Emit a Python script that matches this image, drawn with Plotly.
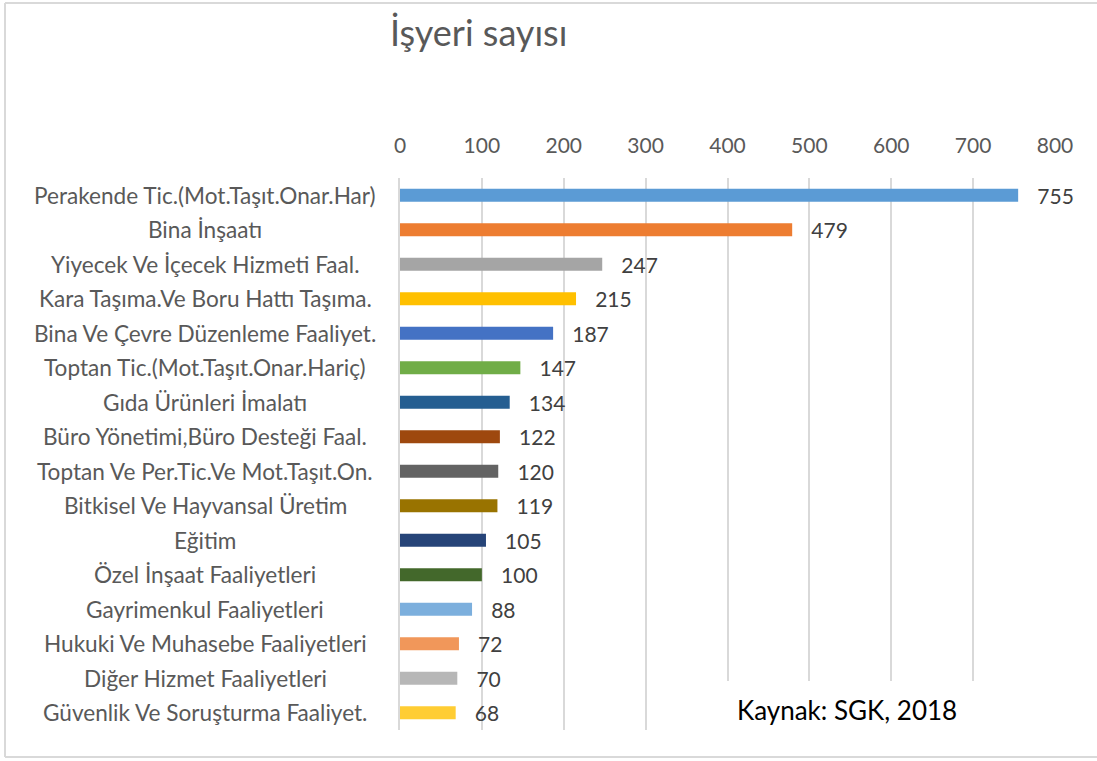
import plotly.graph_objects as go

categories = [
    "Perakende Tic.(Mot.Taşıt.Onar.Har)",
    "Bina İnşaatı",
    "Yiyecek Ve İçecek Hizmeti Faal.",
    "Kara Taşıma.Ve Boru Hattı Taşıma.",
    "Bina Ve Çevre Düzenleme Faaliyet.",
    "Toptan Tic.(Mot.Taşıt.Onar.Hariç)",
    "Gıda Ürünleri İmalatı",
    "Büro Yönetimi,Büro Desteği Faal.",
    "Toptan Ve Per.Tic.Ve Mot.Taşıt.On.",
    "Bitkisel Ve Hayvansal Üretim",
    "Eğitim",
    "Özel İnşaat Faaliyetleri",
    "Gayrimenkul Faaliyetleri",
    "Hukuki Ve Muhasebe Faaliyetleri",
    "Diğer Hizmet Faaliyetleri",
    "Güvenlik Ve Soruşturma Faaliyet.",
]
values = [755, 479, 247, 215, 187, 147, 134, 122, 120, 119, 105, 100, 88, 72, 70, 68]
colors = ["#5B9BD5", "#ED7D31", "#A5A5A5", "#FFC000", "#4472C4", "#70AD47",
          "#255E91", "#9E480E", "#636363", "#997300", "#264478", "#43682B",
          "#7CAFDD", "#F1975A", "#B7B7B7", "#FFCD33"]
x_ticks = [0, 100, 200, 300, 400, 500, 600, 700, 800]

FONT = "Lato"
W, H = 1097, 761
L, R, T, B = 400, 42, 178, 31
pw, ph = W - L - R, H - T - B

def px_x(p):
    return (p - L) / pw

def px_y(p):
    return (H - B - p) / ph

fig = go.Figure(go.Bar(
    x=values, y=categories, orientation="h",
    marker=dict(color=colors, line=dict(width=0)),
    text=[f"   {v}" for v in values], textposition="outside",
    constraintext="none",
    textfont=dict(family=FONT, size=21, color="#404040"),
    cliponaxis=False, width=0.38,
))

for c in categories:
    fig.add_annotation(x=px_x(205), xref="paper", y=c, yref="y", text=c,
                       showarrow=False, xanchor="center",
                       font=dict(family=FONT, size=22.6, color="#595959"))

# white box behind the source note, covering the gridlines
fig.add_shape(type="rect", xref="paper", yref="paper",
              x0=px_x(648), x1=px_x(1075), y0=px_y(740), y1=px_y(681),
              fillcolor="white", line=dict(width=0), layer="above")

fig.add_annotation(x=px_x(847), y=px_y(710), xref="paper", yref="paper",
                   text="Kaynak: SGK, 2018", showarrow=False,
                   xanchor="center", yanchor="middle",
                   font=dict(family=FONT, size=26, color="#000000"))

# chart border (left, top, bottom; right edge lies outside the view)
border = dict(color="#D9D9D9", width=2)
fig.add_shape(type="line", xref="paper", yref="paper",
              x0=px_x(5), x1=px_x(5), y0=px_y(757), y1=px_y(3), line=border)
fig.add_shape(type="line", xref="paper", yref="paper",
              x0=px_x(5), x1=px_x(1100), y0=px_y(3), y1=px_y(3), line=border)
fig.add_shape(type="line", xref="paper", yref="paper",
              x0=px_x(5), x1=px_x(1100), y0=px_y(757), y1=px_y(757), line=border)

fig.update_layout(
    width=W, height=H,
    margin=dict(l=L, r=R, t=T, b=B),
    paper_bgcolor="white", plot_bgcolor="white",
    showlegend=False,
    title=dict(text="İşyeri sayısı", x=390 / W, xanchor="left",
               y=1 - 33 / H, yanchor="middle",
               font=dict(family=FONT, size=36, color="#595959")),
    xaxis=dict(side="top", range=[0, 800], tickvals=x_ticks,
               showgrid=True, gridcolor="#D9D9D9", gridwidth=2,
               zeroline=False, showline=False, ticks="",
               tickfont=dict(family=FONT, size=21, color="#595959"),
               ticklabelstandoff=20),
    yaxis=dict(autorange="reversed", showticklabels=False, ticks="",
               showgrid=False, zeroline=False,
               showline=True, linecolor="#D9D9D9", linewidth=2),
    bargap=0.62,
)

fig.write_html("out.html", config={"displayModeBar": False},
               post_script="document.body.style.margin='0';document.body.style.padding='0';")
